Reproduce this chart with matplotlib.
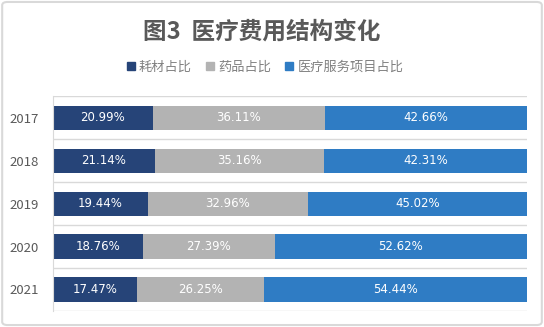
import numpy as np
import matplotlib
matplotlib.use("Agg")
import matplotlib.pyplot as plt
from matplotlib.patches import FancyBboxPatch, Patch

plt.rcParams['font.family'] = ['Noto Sans CJK SC', 'DejaVu Sans']

# ── Data ──────────────────────────────────────────────────────────────────────
years = ["2017", "2018", "2019", "2020", "2021"]
series_names = ["耗材占比", "药品占比", "医疗服务项目占比"]
consumables = [20.99, 21.14, 19.44, 18.76, 17.47]
drugs = [36.11, 35.16, 32.96, 27.39, 26.25]
services = [42.66, 42.31, 45.02, 52.62, 54.44]
colors = ["#264478", "#B3B3B3", "#2F7CC4"]

values = np.array([consumables, drugs, services])
shares = values / values.sum(axis=0) * 100   # 100% stacked

fig = plt.figure(figsize=(5.44, 3.27), dpi=100)
fig.patches.append(FancyBboxPatch((0.004, 0.006), 0.992, 0.988,
                                  boxstyle="round,pad=0,rounding_size=0.01",
                                  transform=fig.transFigure, fill=False,
                                  edgecolor="#D9D9D9", linewidth=1.5))

ax = fig.add_axes([0.0974, 0.049, 0.872, 0.657])
y = np.arange(len(years))
left = np.zeros(len(years))
for vals, raw, name, col in zip(shares, values, series_names, colors):
    ax.barh(y, vals, left=left, height=0.56, color=col, label=name)
    for yi, l, v, r in zip(y, left, vals, raw):
        ax.text(l + v / 2, yi, f"{r:.2f}%", ha="center", va="center",
                color="white", fontsize=8.5, family="DejaVu Sans")
    left += vals

ax.set_xlim(0, 100)
ax.set_ylim(len(years) - 0.5, -0.5)
ax.set_yticks(y)
ax.set_yticklabels(years, fontsize=9.5, color="#595959")
ax.set_xticks([])
ax.set_yticks(np.arange(-0.5, len(years)), minor=True)
ax.grid(axis="y", which="minor", color="#D9D9D9", linewidth=1)
ax.tick_params(axis="y", which="both", length=0, pad=10)
for s in ["top", "right", "bottom"]:
    ax.spines[s].set_visible(False)
ax.spines["left"].set_color("#D9D9D9")
ax.set_axisbelow(True)

fig.text(0.482, 0.905, "图3  医疗费用结构变化", ha="center", va="center",
         fontsize=17, fontweight="bold", color="#595959")

handles = [Patch(color=c) for c in colors]
fig.legend(handles, series_names, loc="center", bbox_to_anchor=(0.487, 0.795),
           ncol=3, frameon=False, fontsize=9.5, labelcolor="#808080",
           handlelength=0.6, handleheight=0.6, handletextpad=0.3, columnspacing=1.1)

fig.savefig("out.png", dpi=100)
